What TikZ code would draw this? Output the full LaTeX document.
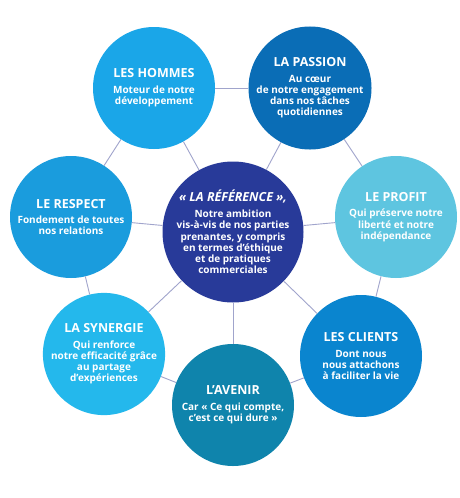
\documentclass[tikz,border=0pt]{standalone}
\usepackage{fontspec}
\setmainfont{Open Sans}
\definecolor{cHommes}{HTML}{1AA6E8}
\definecolor{cPassion}{HTML}{0A6DB6}
\definecolor{cRespect}{HTML}{1A9CDD}
\definecolor{cProfit}{HTML}{5EC5E0}
\definecolor{cRef}{HTML}{283A99}
\definecolor{cSynergie}{HTML}{24B8EC}
\definecolor{cAvenir}{HTML}{0F84AC}
\definecolor{cClients}{HTML}{0A85CF}
\definecolor{cLine}{HTML}{A0A4CC}
\newcommand{\btitle}[1]{{\fontsize{12.5}{14}\selectfont\bfseries #1}\\[4.5pt]}
\tikzset{
  bubble/.style={circle, inner sep=0pt, minimum size=122pt, text=white, align=center,
    font=\fontsize{10}{11.2}\selectfont\bfseries},
  link/.style={draw=cLine, line width=0.9pt}
}
\begin{document}
\begin{tikzpicture}[x=1pt,y=-1pt]
\useasboundingbox[fill=white] (0,0) rectangle (460,498);
\node[bubble, fill=cHommes] (hommes) at (154,88) {\btitle{LES HOMMES}Moteur de notre\\développement};
\node[bubble, fill=cPassion] (passion) at (310,88) {\btitle{LA PASSION}Au cœur\\de notre engagement\\dans nos tâches\\quotidiennes};
\node[bubble, fill=cRespect] (respect) at (71,217) {\btitle{LE RESPECT}Fondement de toutes\\nos relations};
\node[bubble, fill=cProfit] (profit) at (396,217) {\btitle{LE PROFIT}Qui préserve notre\\liberté et notre\\indépendance};
\node[bubble, fill=cRef, minimum size=141pt] (ref) at (233,232) {{\fontsize{12.5}{14}\selectfont\bfseries\itshape « LA RÉFÉRENCE »,}\\[4.5pt]Notre ambition\\vis-à-vis de nos parties\\prenantes, y compris\\en termes d’éthique\\et de pratiques\\commerciales};
\node[bubble, fill=cSynergie] (synergie) at (104,354) {\btitle{LA SYNERGIE}Qui renforce\\notre efficacité grâce\\au partage\\d’expériences};
\node[bubble, fill=cAvenir] (avenir) at (233,405) {\btitle{L’AVENIR}Car « Ce qui compte,\\c’est ce qui dure »};
\node[bubble, fill=cClients] (clients) at (361,356) {\btitle{LES CLIENTS}Dont nous\\nous attachons\\à faciliter la vie};
\draw[link] (hommes) -- (passion);
\draw[link] (passion) -- (profit);
\draw[link] (profit) -- (clients);
\draw[link] (clients) -- (avenir);
\draw[link] (avenir) -- (synergie);
\draw[link] (synergie) -- (respect);
\draw[link] (respect) -- (hommes);
\foreach \n in {hommes,passion,profit,clients,avenir,synergie,respect}
  \draw[link] (ref) -- (\n);
\end{tikzpicture}
\end{document}
